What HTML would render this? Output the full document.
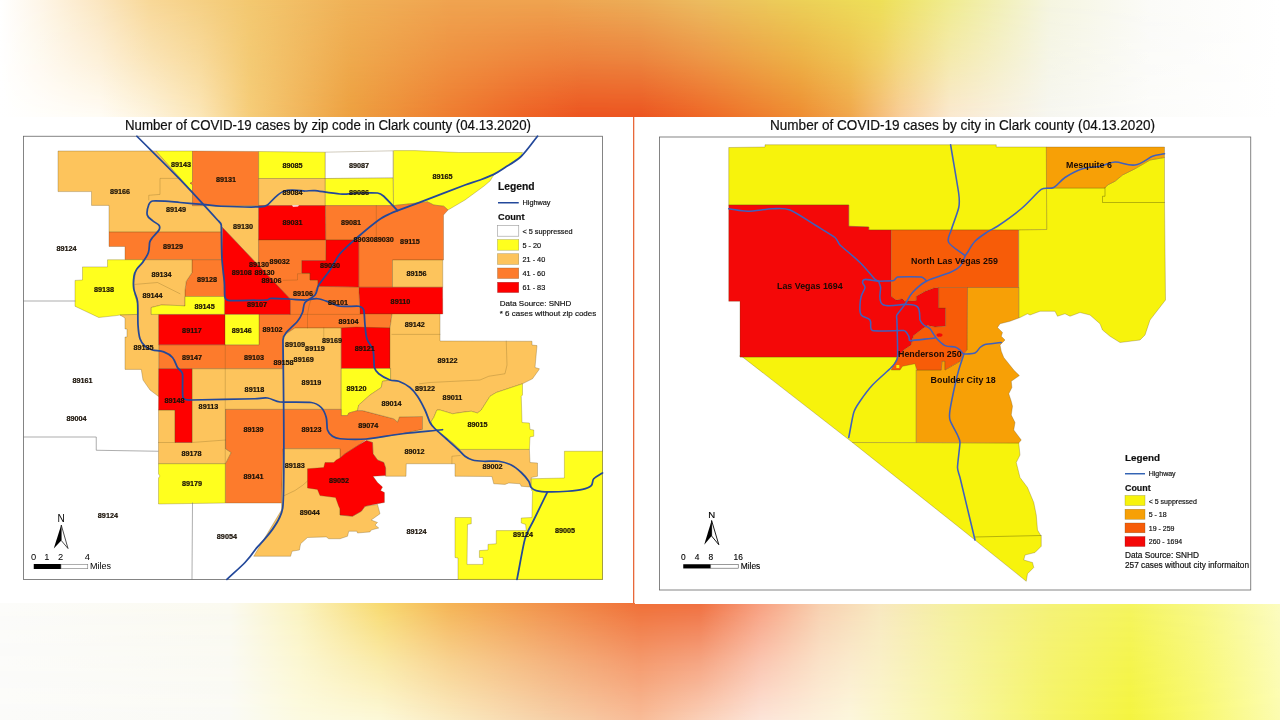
<!DOCTYPE html>
<html lang="en"><head><meta charset="utf-8"><title>COVID-19 cases in Clark county</title>
<style>
html,body{margin:0;padding:0;}
body{width:1280px;height:720px;overflow:hidden;background:#fff;position:relative;font-family:"Liberation Sans",sans-serif;}
#top,#top2{position:absolute;left:0;top:0;width:1280px;height:117px;}
#top{background:linear-gradient(90deg,#ffffff 0px,#fef6e8 40px,#fbe6c0 100px,#f8d898 150px,#f3c870 250px,#f0b258 350px,#f0a450 450px,#efa450 550px,#ecae58 640px,#ecbc60 700px,#ecd058 800px,#eee058 880px,#f0ec90 950px,#f2f0b8 1000px,#f5f5e0 1050px,#fbfbf8 1150px,#ffffff 1280px);}
#top2{background:linear-gradient(90deg,#ffffff 0px,#fffcf5 100px,#fdf3dc 150px,#fbe6b8 200px,#f5cc78 250px,#eda040 350px,#ee7c30 450px,#ee6426 520px,#ec5420 580px,#ec5420 640px,#ee6626 700px,#ee8c32 800px,#f0a64c 850px,#f8cc98 900px,#fae8d0 950px,#f8f0e0 1000px,#f6f6f0 1050px,#fcfcfa 1150px,#ffffff 1280px);
-webkit-mask-image:linear-gradient(180deg,rgba(0,0,0,0) 0%,rgba(0,0,0,.45) 50%,rgba(0,0,0,1) 100%);mask-image:linear-gradient(180deg,rgba(0,0,0,0) 0%,rgba(0,0,0,.45) 50%,rgba(0,0,0,1) 100%);}
#bot,#bot2{position:absolute;left:0;top:603px;width:1280px;height:117px;}
#bot{background:linear-gradient(90deg,#fcfcfa 0px,#fbfaf0 230px,#fbf3c0 300px,#f8da70 380px,#f5b455 450px,#f2904a 550px,#f07038 640px,#f07040 700px,#f8a080 760px,#f8d0b0 820px,#f8e8c0 880px,#f5f0a0 950px,#f5f278 1050px,#f5f560 1130px,#f8f888 1200px,#fcfcc0 1280px);}
#bot2{background:linear-gradient(90deg,#fbfbf9 0px,#fafaf5 230px,#fcfae0 300px,#fcf8d8 380px,#faeac0 450px,#f6d0a8 550px,#f8bc98 640px,#fad0b8 700px,#fce4d8 760px,#fcf6dc 850px,#f8f6a8 950px,#f5f468 1050px,#f4f440 1130px,#f8f870 1200px,#fcfcb0 1280px);
-webkit-mask-image:linear-gradient(180deg,rgba(0,0,0,0) 0%,rgba(0,0,0,.55) 50%,rgba(0,0,0,1) 100%);mask-image:linear-gradient(180deg,rgba(0,0,0,0) 0%,rgba(0,0,0,.55) 50%,rgba(0,0,0,1) 100%);}
#map{position:absolute;left:0;top:0;}
svg text{font-family:"Liberation Sans",sans-serif;}
</style></head><body>
<div id="top"></div><div id="top2"></div>
<div id="bot"></div><div id="bot2"></div>
<svg id="map" width="1280" height="720" viewBox="0 0 1280 720">
<rect x="0" y="117" width="1280" height="486" fill="#fff"/>
<rect x="633" y="117" width="1.3" height="486" fill="#E8683A"/>
<rect x="635" y="602" width="645" height="2" fill="#fff"/>

<text x="125" y="130.3" font-size="14" fill="#111" stroke="#111" stroke-width="0.2" textLength="406" lengthAdjust="spacingAndGlyphs">Number of COVID-19 cases by zip code in Clark county (04.13.2020)</text>
<text x="770" y="130.3" font-size="14" fill="#111" stroke="#111" stroke-width="0.2" textLength="385" lengthAdjust="spacingAndGlyphs">Number of COVID-19 cases by city in Clark county (04.13.2020)</text>
<g id="leftmap">
<rect x="23.5" y="136.25" width="579" height="443.15" fill="#fff" stroke="#666" stroke-width="0.8"/>
<polygon points="58,151 156,151 192.5,192 192.5,205.6 258.6,205.6 258.6,265.5 222.5,227.5 221.5,232.1 109,232.1 109,205.4 91.5,205.4 91.5,191.6 58,191.6" fill="#FDC45C" stroke="rgba(90,70,20,.55)" stroke-width="0.5"/>
<polygon points="156,151 192.5,151 192.5,182 190,183.2 192.5,184.5 192.5,192" fill="#FFFF1E" stroke="rgba(90,70,20,.55)" stroke-width="0.5"/>
<polygon points="192.5,151 258.7,151.5 258.7,205.6 192.5,205.6 192.5,184.5 190,183.2 192.5,182" fill="#FD7B2C" stroke="rgba(90,70,20,.55)" stroke-width="0.5"/>
<polygon points="258.7,151.5 325.3,152.2 325.3,178.5 258.7,178.5" fill="#FFFF1E" stroke="rgba(90,70,20,.55)" stroke-width="0.5"/>
<polygon points="258.7,178.5 325.3,178.5 325.3,205.6 258.7,205.6" fill="#FDC45C" stroke="rgba(90,70,20,.55)" stroke-width="0.5"/>
<polygon points="325.3,152.2 393,150.8 393,178 325.3,178.5" fill="#FFFFFF" stroke="rgba(90,70,20,.55)" stroke-width="0.5"/>
<polygon points="325.3,178.5 393,178 393.5,205.6 325.3,205.6" fill="#FFFF1E" stroke="rgba(90,70,20,.55)" stroke-width="0.5"/>
<polygon points="393.5,150.6 415,150.6 458.75,152.5 522.5,152.5 521.25,156.25 505,167.5 493.75,175 490,181 483.75,186.25 465,200 448,210 443.75,206.25 433.75,205 427.5,201.9 393.5,205.6" fill="#FFFF1E" stroke="rgba(90,70,20,.55)" stroke-width="0.5"/>
<polygon points="258.7,205.6 325.5,205.6 325.8,240 258.6,240" fill="#FE0000" stroke="rgba(90,70,20,.55)" stroke-width="0.5"/>
<polygon points="325.5,205.6 393.5,205.6 427.5,201.9 433.75,205 443.75,206.25 448,210 443.5,215 443.5,260 392.5,260 392.5,287.25 358.75,287.25 358.75,240 325.8,240" fill="#FD7B2C" stroke="rgba(90,70,20,.55)" stroke-width="0.5"/>
<polygon points="392.5,260 442.75,260 442.75,287.25 392.5,287.25" fill="#FDC45C" stroke="rgba(90,70,20,.55)" stroke-width="0.5"/>
<polygon points="358.75,287.25 442.6,287.25 442.75,314 360,314" fill="#FE0000" stroke="rgba(90,70,20,.55)" stroke-width="0.5"/>
<polygon points="258.6,240 325.8,240 326,260.6 301.9,260.6 301.9,273 310,273 310,280 318,280 318,286.3 358.75,287 360,314 392,314 390,328 295,328 283,336.25 282.5,368.75 158.75,368.75 158.75,344.75 259,344.75 259,314.4 290.25,314.4 290.25,300 288.75,297.5 258.6,265.5" fill="#FD7B2C" stroke="rgba(90,70,20,.55)" stroke-width="0.5"/>
<polygon points="301.9,260.6 326,260.6 326,240 358.75,240 358.75,287 318,286.3 318,280 310,280 310,273 301.9,273" fill="#FE0000" stroke="rgba(90,70,20,.55)" stroke-width="0.5"/>
<polygon points="222.5,227.5 288.75,297.5 290.25,300 290.25,314.4 224.4,314.4 224.4,296.5 223.75,282 222,257" fill="#FE0000" stroke="rgba(90,70,20,.55)" stroke-width="0.5"/>
<polygon points="109,232.1 221.5,232.1 222,259.75 125,259.75 125,246.5 109,246.5" fill="#FD7B2C" stroke="rgba(90,70,20,.55)" stroke-width="0.5"/>
<polygon points="192,259.75 222,259.75 223.75,282 224.4,296.5 185,296.5 185,290 186.25,281.25 192,272.5" fill="#FD7B2C" stroke="rgba(90,70,20,.55)" stroke-width="0.5"/>
<polygon points="107.5,259.75 143,259.75 143,261 136.25,270 133.75,282.5 135,295 138,305 138,314.4 120,315 116.25,315.6 98.75,317.5 75,306.25 75,280.4 82.5,280 82.5,266.9 107.5,266.9" fill="#FFFF1E" stroke="rgba(90,70,20,.55)" stroke-width="0.5"/>
<polygon points="143,259.75 192,259.75 192,272.5 186.25,281.25 185,290 185,306 180,305.6 161.25,305 151.25,307.5 151.25,314.4 158.75,314.4 158.6,396.5 150,390 143,380 141.25,369.4 125,369.4 125,337 127,337 127,329 125,329 125,318 120,315 138,314.4 138,305 135,295 133.75,282.5 136.25,270 143,261" fill="#FDC45C" stroke="rgba(90,70,20,.55)" stroke-width="0.5"/>
<polygon points="151.25,307.5 161.25,305 180,305.6 185,306 185,296.5 224.4,296.5 224.4,314.4 151.25,314.4" fill="#FFFF1E" stroke="rgba(90,70,20,.55)" stroke-width="0.5"/>
<polygon points="158.75,314.6 225,314.4 225,344.75 158.75,344.75" fill="#FE0000" stroke="rgba(90,70,20,.55)" stroke-width="0.5"/>
<polygon points="225,314.4 259,314.4 259,344.75 225,344.75" fill="#FFFF1E" stroke="rgba(90,70,20,.55)" stroke-width="0.5"/>
<polygon points="282.5,336.25 295,328 341.25,328 341.25,409.4 225.6,409.4 225.6,448.75 231.25,452.5 226.25,462.5 225.25,463.75 158.5,463.75 158.5,410 175,410 175,442.5 192,442.5 192,368.75 282.5,368.75" fill="#FDC45C" stroke="rgba(90,70,20,.55)" stroke-width="0.5"/>
<polygon points="158.75,368.75 192,368.75 192,442.5 175,442.5 175,410 158.5,410" fill="#FE0000" stroke="rgba(90,70,20,.55)" stroke-width="0.5"/>
<polygon points="341.25,328 356,327 390,328 390,368.5 341.25,368.5" fill="#FE0000" stroke="rgba(90,70,20,.55)" stroke-width="0.5"/>
<polygon points="341.25,368.5 390.6,368.5 390.6,380 382.5,381.25 381.25,387.5 370,395 358.75,405 357.5,410.6 348.75,413 347.5,415.6 341.25,415.6" fill="#FFFF1E" stroke="rgba(90,70,20,.55)" stroke-width="0.5"/>
<polygon points="225.6,409.4 341.25,409.4 341.25,415.6 347.5,415.6 348.75,413 357.5,410.6 362.5,410.6 393.75,418.75 397.5,422 399.4,416.9 422.5,416.5 422.5,429.4 402.5,433.75 366.25,439.5 358.75,445 345,453.75 340,458 340,448.75 283,448.75 281.5,503 225.25,503 225.25,463.75 226.25,462.5 231.25,452.5 225.6,448.75" fill="#FD7B2C" stroke="rgba(90,70,20,.55)" stroke-width="0.5"/>
<polygon points="158.5,463.75 225.25,463.75 225.25,503 158.5,504 158.5,478 160,476 158.5,474" fill="#FFFF1E" stroke="rgba(90,70,20,.55)" stroke-width="0.5"/>
<polygon points="283,448.75 340,448.75 340,515 352.5,516.25 361.25,511.25 365,506.25 377.5,504.4 380,513.75 371.25,520 377.5,522.5 375,525 378.75,528 371.25,530 370,531.9 357.5,533 356.9,531.25 348.75,531.25 347.5,536.25 340,538.75 328.75,538.75 326.25,536.9 307.5,537.5 300.6,543.75 299.4,550 292,551.25 290.6,556.25 253.75,556.25 281.5,510 281.5,503" fill="#FDC45C" stroke="rgba(90,70,20,.55)" stroke-width="0.5"/>
<polygon points="392,314 440,314 440,341 532,341.25 532,345 537,345.6 535,367.5 539.4,368.75 538.75,370 532.5,378.75 522.5,383.75 511.25,387.5 496.25,392.5 490,396.25 481.25,410 477.5,413 471.25,411.25 465,411.9 452.5,413.75 440,410 436.9,410 433.75,417.5 431.25,421.25 431.25,425 440,432.5 452.5,442.5 460,449.4 529.4,449.4 530,462.5 537.5,463 537.5,476.25 531.25,477.5 531.25,487 528.75,486.9 521.25,486.25 520,483.75 508.75,483 505,484.4 493.75,483.75 491.9,476.5 455,476.25 455,463.75 406.25,463.75 406,476.25 385.6,476.25 385.6,468 383.75,462.5 377.5,460 373,453.75 372.5,442.5 366.25,440.6 366.25,439.5 402.5,433.75 422.5,429.4 422.5,416.5 399.4,416.9 397.5,422 393.75,418.75 362.5,410.6 357.5,410.6 358.75,405 370,395 381.25,387.5 382.5,381.25 390.6,380 390.6,368.5 390,368.5 390,328" fill="#FDC45C" stroke="rgba(90,70,20,.55)" stroke-width="0.5"/>
<polygon points="307.5,468.75 323.75,467.5 325,462.5 333.75,462.5 336.25,460 340,458 345,453.75 358.75,445 366.25,440.6 372.5,442.5 373,453.75 377.5,460 383.75,462.5 385.6,468 385.6,475.6 373,476.25 377.5,482.5 382.5,487 380.6,490.6 384.4,492.5 384.4,502.5 377.5,503.75 365,506.25 361.25,511.25 352.5,516.25 340,515 340,508.75 338.75,506.25 335.6,497.5 320,495.6 317.5,489.4 307.5,488" fill="#FE0000" stroke="rgba(90,70,20,.55)" stroke-width="0.5"/>
<polygon points="436.9,410 440,410 452.5,413.75 465,411.9 471.25,411.25 477.5,413 481.25,410 490,396.25 496.25,392.5 511.25,387.5 522.5,383.75 522.5,395 521.25,396.25 522,422.5 529.4,423 530,429.4 533.75,430 533.75,436.25 530,436.9 529.4,449.4 460,449.4 452.5,442.5 440,432.5 431.25,425 431.25,421.25 433.75,417.5" fill="#FFFF1E" stroke="rgba(90,70,20,.55)" stroke-width="0.5"/>
<polygon points="564.4,451.25 602.5,451.25 602.5,579.4 458,579.4 458,558 455,557.5 455,517.5 471.25,517.5 471.25,523.75 467.5,524.4 467,564.4 483,564.4 483,557.5 479.4,557.5 479.4,550.6 488,550 488,544.4 496.25,543.75 496.25,530.6 526.25,530.6 525.6,524.4 521.25,523 521.25,518 531.9,517.5 532.5,491.25 531.25,490 531.25,478.75 564.4,478" fill="#FFFF1E" stroke="rgba(90,70,20,.55)" stroke-width="0.5"/>
<polyline points="23.5,301 75,301" fill="none" stroke="#777" stroke-width="0.6" stroke-linejoin="round" stroke-linecap="round" />
<polyline points="23.5,437 96.25,437 96.25,450.25 158,451.25" fill="none" stroke="#777" stroke-width="0.6" stroke-linejoin="round" stroke-linecap="round" />
<polyline points="192.5,503 192,579.4" fill="none" stroke="#777" stroke-width="0.6" stroke-linejoin="round" stroke-linecap="round" />
<polyline points="178,178.4 160,178.4 160,194.4 148.75,195.3 148.75,200" fill="none" stroke="rgba(90,70,20,.45)" stroke-width="0.5" stroke-linejoin="round" stroke-linecap="round" />
<polyline points="135,284.4 157.5,282.5 180,293.75" fill="none" stroke="rgba(90,70,20,.45)" stroke-width="0.5" stroke-linejoin="round" stroke-linecap="round" />
<polyline points="225.25,344.75 225.25,463" fill="none" stroke="rgba(90,70,20,.45)" stroke-width="0.5" stroke-linejoin="round" stroke-linecap="round" />
<polyline points="392,334.4 440,334.4" fill="none" stroke="rgba(90,70,20,.45)" stroke-width="0.5" stroke-linejoin="round" stroke-linecap="round" />
<polyline points="506.25,341 507,365 505,373.75 488.75,376.25 480,380 430,382.5 419.4,383.75" fill="none" stroke="rgba(90,70,20,.45)" stroke-width="0.5" stroke-linejoin="round" stroke-linecap="round" />
<polyline points="158.5,442.5 175,442.5" fill="none" stroke="rgba(90,70,20,.45)" stroke-width="0.5" stroke-linejoin="round" stroke-linecap="round" />
<polyline points="192,442.5 225.6,440" fill="none" stroke="rgba(90,70,20,.45)" stroke-width="0.5" stroke-linejoin="round" stroke-linecap="round" />
<polyline points="451.9,463.75 451.9,456.25 460,455.5" fill="none" stroke="rgba(90,70,20,.45)" stroke-width="0.5" stroke-linejoin="round" stroke-linecap="round" />
<polyline points="376.3,205.6 376.3,240" fill="none" stroke="rgba(90,70,20,.45)" stroke-width="0.5" stroke-linejoin="round" stroke-linecap="round" />
<polygon points="292,205.2 299,205.2 298,206.6 293,206.8" fill="#FFFFFF" stroke="none" stroke-width="0"/>
<polyline points="283.5,496 295,490.5 303,485 307.5,481" fill="none" stroke="rgba(90,70,20,.45)" stroke-width="0.5" stroke-linejoin="round" stroke-linecap="round" />
<polyline points="290.25,314.4 360,314.4" fill="none" stroke="rgba(90,70,20,.45)" stroke-width="0.5" stroke-linejoin="round" stroke-linecap="round" />
<polyline points="310,273.5 297.5,273.75 297.5,280 283,280.3" fill="none" stroke="rgba(90,70,20,.45)" stroke-width="0.5" stroke-linejoin="round" stroke-linecap="round" />
<polyline points="323.75,328 323.75,341" fill="none" stroke="rgba(90,70,20,.45)" stroke-width="0.5" stroke-linejoin="round" stroke-linecap="round" />
<polyline points="318,286.3 312,296 309,306 307.5,314.4 307.5,328" fill="none" stroke="rgba(90,70,20,.45)" stroke-width="0.5" stroke-linejoin="round" stroke-linecap="round" />
<path d="M136.90,136.25C152.42,151.78 166.20,165.06 180.00,179.40C193.80,193.74 215.99,218.33 217.50,220.00C219.01,221.67 220.99,222.77 221.25,225.00C221.51,227.23 221.41,248.47 221.90,257.50C222.39,266.53 223.98,277.11 224.40,282.50C224.82,287.89 224.37,295.48 225.00,297.50C225.63,299.52 227.89,300.48 230.00,300.60C232.11,300.72 266.45,300.06 267.50,300.00C268.55,299.94 268.95,298.55 270.00,298.50C271.05,298.45 282.89,298.75 288.75,299.00C294.61,299.25 300.48,300.04 305.00,300.00C309.52,299.96 313.00,298.30 317.50,298.75C322.00,299.20 326.35,301.28 330.00,302.50C333.65,303.72 336.19,305.75 340.00,306.25C343.81,306.75 356.53,305.90 358.75,306.25C360.97,306.60 363.04,307.87 363.75,310.00C364.46,312.13 364.46,320.03 365.00,325.00C365.54,329.97 365.50,334.36 366.90,338.75C368.30,343.14 371.84,345.54 373.00,350.00C374.16,354.46 373.75,364.84 374.40,367.50C375.05,370.16 376.61,372.04 378.75,373.75C380.89,375.46 387.02,378.88 390.00,380.00C392.98,381.12 395.77,380.13 398.75,381.25C401.73,382.37 406.76,384.91 410.00,387.50C413.24,390.09 415.20,392.80 417.50,396.25C419.80,399.70 422.92,405.62 425.00,410.00C427.08,414.38 428.64,419.96 430.00,422.50C431.36,425.04 432.96,426.71 435.00,428.75C437.04,430.79 442.21,435.14 446.25,438.75C450.29,442.36 456.42,447.83 458.75,450.00C461.08,452.17 462.56,454.47 465.00,456.25C467.44,458.03 469.58,459.22 472.50,460.00C475.42,460.78 479.68,461.06 483.75,461.25C487.82,461.44 494.09,460.62 498.75,461.25C503.41,461.88 507.23,462.99 511.25,465.00C515.27,467.01 518.21,469.68 521.25,472.50C524.29,475.32 527.41,479.23 528.75,481.25C530.09,483.27 529.92,485.85 531.25,487.50C532.58,489.15 534.20,490.08 536.25,490.60C538.30,491.12 544.23,491.81 548.75,491.90C553.27,491.99 562.07,491.65 567.50,491.25C572.93,490.85 579.16,490.19 582.50,489.40C585.84,488.61 589.34,487.40 591.25,485.60C593.16,483.80 592.00,480.71 593.75,478.75C595.50,476.79 599.35,475.07 602.50,473.00" fill="none" stroke="#23489A" stroke-width="1.75" stroke-linejoin="round" stroke-linecap="round"/>
<path d="M397.50,210.60C392.55,205.43 385.65,197.93 383.75,196.25C381.85,194.57 380.01,193.33 377.50,193.00C374.99,192.67 365.50,192.82 358.75,193.00C352.00,193.18 346.75,194.37 340.00,194.00C333.25,193.63 318.59,190.91 315.00,190.60C311.41,190.29 308.60,190.93 305.00,191.00C301.40,191.07 290.92,188.57 283.75,191.25C276.58,193.93 269.83,203.47 267.50,205.00C265.17,206.53 262.78,206.83 260.00,206.90C257.22,206.97 227.69,206.54 221.00,206.25C214.31,205.96 209.17,205.01 202.50,204.40C195.83,203.79 185.40,202.96 180.00,202.50C174.60,202.04 169.49,201.45 165.00,201.20C160.51,200.95 154.35,200.60 152.50,201.00C150.65,201.40 149.42,202.92 148.75,204.70C148.08,206.48 146.62,212.31 147.25,215.00C147.88,217.69 150.42,218.78 152.50,220.60C154.58,222.42 158.04,223.91 159.00,225.30C159.96,226.69 159.80,228.51 159.00,230.00C158.20,231.49 153.69,235.93 152.50,237.50C151.31,239.07 150.22,240.30 149.70,242.20C149.18,244.10 149.60,248.96 148.40,252.50C147.20,256.04 145.03,258.99 143.00,261.90C140.97,264.81 138.00,267.17 136.60,269.40C135.20,271.63 134.38,273.64 134.00,276.25C133.62,278.86 133.13,284.29 133.75,288.75C134.37,293.21 136.95,296.58 137.50,301.25C138.05,305.92 137.67,320.01 138.00,325.00C138.33,329.99 138.98,335.67 140.00,338.75C141.02,341.83 142.76,344.23 145.00,346.25C147.24,348.27 149.61,349.13 152.50,350.00C155.39,350.87 160.25,350.59 163.75,351.90C167.25,353.21 170.03,354.69 172.50,357.50C174.97,360.31 175.99,365.05 177.50,367.50C179.01,369.95 181.98,370.92 182.50,373.75C183.02,376.58 182.02,394.56 183.00,397.50C183.98,400.44 188.15,399.95 191.25,400.00C194.35,400.05 250.49,398.87 255.00,398.75C259.51,398.63 263.03,397.42 267.50,398.00C271.97,398.58 275.30,401.52 280.00,402.00C284.70,402.48 307.26,401.97 311.25,402.50C315.24,403.03 318.40,404.65 321.25,407.50C324.10,410.35 325.17,413.62 326.25,417.50C327.33,421.38 326.59,427.27 327.50,430.00C328.41,432.73 330.17,434.62 332.50,436.25C334.83,437.88 337.16,438.52 340.00,438.75C342.84,438.98 356.83,439.75 366.25,439.00C375.67,438.25 389.41,435.34 402.50,433.75C415.59,432.16 428.10,431.19 442.50,429.75" fill="none" stroke="#23489A" stroke-width="1.75" stroke-linejoin="round" stroke-linecap="round"/>
<path d="M537.50,136.25C531.65,143.45 526.38,151.32 521.25,156.25C516.12,161.18 508.97,164.88 505.00,167.50C501.03,170.12 498.00,172.28 493.75,174.40C489.50,176.52 485.01,178.15 480.00,180.00C474.99,181.85 470.34,183.03 465.00,185.00C459.66,186.97 438.28,195.31 427.50,199.40C416.72,203.49 400.24,209.55 397.50,210.60C394.76,211.65 392.62,212.44 390.00,213.75C387.38,215.06 382.51,217.29 378.75,220.00C374.99,222.71 365.71,230.19 358.75,236.25C351.79,242.31 344.45,248.52 340.00,253.75C335.55,258.98 333.80,264.42 330.00,270.00C326.20,275.58 320.73,281.70 318.75,285.00C316.77,288.30 317.38,291.98 315.00,295.00C312.62,298.02 307.16,299.48 305.00,302.50C302.84,305.52 303.85,309.13 302.50,312.50C301.15,315.87 299.79,318.43 297.50,321.25C295.21,324.07 288.05,330.17 286.25,332.50C284.45,334.83 283.06,337.06 283.00,340.00C282.94,342.94 285.16,489.39 282.75,507.50C280.34,525.61 258.26,545.25 255.00,550.00C251.74,554.75 248.98,558.33 245.00,562.50C241.02,566.67 233.42,573.32 226.90,579.40" fill="none" stroke="#23489A" stroke-width="1.75" stroke-linejoin="round" stroke-linecap="round"/>
<path d="M547.50,491.90C542.55,502.02 536.97,513.29 533.75,520.00C530.53,526.71 527.02,531.58 525.00,538.75C522.98,545.92 519.88,564.77 517.00,579.40" fill="none" stroke="#23489A" stroke-width="1.75" stroke-linejoin="round" stroke-linecap="round"/>
<g font-size="7.25" font-weight="700" text-anchor="middle" fill="#1a1208" stroke="#1a1208" stroke-width="0.2">
<text x="181" y="167">89143</text>
<text x="226" y="181.5">89131</text>
<text x="292.5" y="167.5">89085</text>
<text x="359" y="167.5">89087</text>
<text x="442.5" y="178.5">89165</text>
<text x="120" y="194">89166</text>
<text x="292.5" y="195">89084</text>
<text x="359" y="195">89086</text>
<text x="176" y="212">89149</text>
<text x="243" y="229">89130</text>
<text x="292.5" y="225">89031</text>
<text x="351" y="225">89081</text>
<text x="66.5" y="250.5">89124</text>
<text x="173" y="249">89129</text>
<text x="373.75" y="241.9">8903089030</text>
<text x="410" y="243.5">89115</text>
<text x="259" y="266.5">89130</text>
<text x="279.7" y="263.5">89032</text>
<text x="330" y="268">89030</text>
<text x="241.8" y="274.8">89108</text>
<text x="264.5" y="275">89130</text>
<text x="271.5" y="283">89106</text>
<text x="161.5" y="277">89134</text>
<text x="207" y="282">89128</text>
<text x="416.5" y="276">89156</text>
<text x="104" y="292">89138</text>
<text x="152.5" y="298">89144</text>
<text x="303" y="295.5">89106</text>
<text x="204.6" y="309.2">89145</text>
<text x="257" y="306.8">89107</text>
<text x="338" y="305">89101</text>
<text x="400.5" y="303.5">89110</text>
<text x="348.5" y="323.5">89104</text>
<text x="192" y="333">89117</text>
<text x="241.8" y="332.7">89146</text>
<text x="272.5" y="332">89102</text>
<text x="414.8" y="326.5">89142</text>
<text x="295" y="346.5">89109</text>
<text x="332" y="343">89169</text>
<text x="315" y="351">89119</text>
<text x="143.5" y="350">89135</text>
<text x="364.8" y="350.5">89121</text>
<text x="192" y="360">89147</text>
<text x="254" y="359.5">89103</text>
<text x="283.5" y="365">89158</text>
<text x="303.7" y="361.5">89169</text>
<text x="447.5" y="362.5">89122</text>
<text x="82.5" y="383">89161</text>
<text x="254.5" y="391.5">89118</text>
<text x="311.5" y="385">89119</text>
<text x="356.5" y="390.5">89120</text>
<text x="425" y="390.5">89122</text>
<text x="452.5" y="399.5">89011</text>
<text x="391.5" y="406">89014</text>
<text x="174.5" y="402.5">89148</text>
<text x="208.5" y="408.5">89113</text>
<text x="76.5" y="420.5">89004</text>
<text x="477.5" y="427">89015</text>
<text x="253.5" y="432">89139</text>
<text x="311.5" y="432">89123</text>
<text x="368.3" y="428">89074</text>
<text x="191.5" y="455.5">89178</text>
<text x="414.5" y="453.5">89012</text>
<text x="492.5" y="468.75">89002</text>
<text x="294.75" y="468.1">89183</text>
<text x="253.5" y="478.75">89141</text>
<text x="339" y="482.5">89052</text>
<text x="192" y="486">89179</text>
<text x="309.75" y="515.25">89044</text>
<text x="107.9" y="517.5">89124</text>
<text x="226.9" y="538.75">89054</text>
<text x="416.5" y="533.75">89124</text>
<text x="523" y="536.5">89124</text>
<text x="565" y="532.5">89005</text>
</g>
<g fill="#111" stroke="#111" stroke-width="0.18">
<text x="498" y="190" font-size="10.3" font-weight="700">Legend</text>
<line x1="498" y1="202.75" x2="518.75" y2="202.75" stroke="#23489A" stroke-width="1.5"/>
<text x="522.5" y="205.4" font-size="7.3">Highway</text>
<text x="498" y="220" font-size="9.2" font-weight="700">Count</text>
<rect x="497.5" y="225.6" width="21.25" height="10.6" fill="#fff" stroke="#999" stroke-width="0.6"/>
<rect x="497.5" y="239.6" width="21.25" height="10.6" fill="#FFFF1E" stroke="rgba(120,120,30,.6)" stroke-width="0.5"/>
<rect x="497.5" y="253.75" width="21.25" height="10.6" fill="#FDC45C" stroke="rgba(120,100,30,.6)" stroke-width="0.5"/>
<rect x="497.5" y="268" width="21.25" height="10.5" fill="#FD7B2C" stroke="rgba(120,80,30,.6)" stroke-width="0.5"/>
<rect x="497.5" y="282.25" width="21.25" height="10.3" fill="#FE0000" stroke="rgba(120,30,30,.6)" stroke-width="0.5"/>
<g font-size="7.3">
<text x="522.5" y="233.75">&lt; 5 suppressed</text>
<text x="522.5" y="247.9">5 - 20</text>
<text x="522.5" y="262">21 - 40</text>
<text x="522.5" y="276.2">41 - 60</text>
<text x="522.5" y="290.4">61 - 83</text>
</g>
<text x="499.75" y="306" font-size="8">Data Source: SNHD</text>
<text x="499.75" y="315.6" font-size="8">* 6 cases without zip codes</text>
</g>
<g fill="#000">
<text x="61" y="521.7" font-size="10" text-anchor="middle">N</text>
<polygon points="61.25,525 53.75,548.5 61.25,540.5"/>
<polygon points="61.25,525 68,548.5 61.25,540.5" fill="#fff" stroke="#000" stroke-width="0.7"/>
<g font-size="9.3" text-anchor="middle">
<text x="33.5" y="559.75">0</text><text x="46.9" y="559.75">1</text><text x="60.6" y="559.75">2</text><text x="87.25" y="559.75">4</text>
</g>
<rect x="33.75" y="564" width="27.25" height="5"/>
<rect x="61" y="564.3" width="26.75" height="4.4" fill="#fff" stroke="#777" stroke-width="0.6"/>
<text x="90" y="568.75" font-size="9">Miles</text>
</g>
</g>
<g id="rightmap">
<rect x="659.5" y="137" width="591.25" height="453" fill="#fff" stroke="#666" stroke-width="0.8"/>
<polygon points="728.75,147.5 765,147 765,144.75 996.25,144.75 996.25,147 1046.5,147 1046.9,229.5 1018.75,230 891.25,230 868.75,230 868.75,227 848.75,226.25 848.75,205 728.75,205" fill="#F7F30C" stroke="rgba(90,70,20,.55)" stroke-width="0.5"/>
<polygon points="1046.5,188 1105,188 1107.5,185 1115,181.25 1122.5,175 1135,168.75 1150,160 1164.5,157.5 1164.5,202.5 1165.5,300 1150,320 1145,335 1140,340 1120,342.5 1110,336.25 1102.5,330 1100,323.75 1090,315 1080,312.5 1070,316.25 1065,313.75 1057.5,316.25 1055,311.25 1040,311.25 1030,315 1027.5,313.75 1020,317.5 1018.75,318 1018.75,230 1046.9,229.5" fill="#F7F30C" stroke="rgba(90,70,20,.55)" stroke-width="0.5"/>
<polygon points="1046.25,147 1164.5,147 1164.5,157.5 1150,160 1135,168.75 1122.5,175 1115,181.25 1107.5,185 1105,188 1046.5,188" fill="#F7A006" stroke="rgba(90,70,20,.55)" stroke-width="0.5"/>
<polyline points="1105,188 1105,196.25 1102.5,196.25 1102.5,202.5 1164.5,202.5" fill="none" stroke="rgba(60,60,10,.7)" stroke-width="0.5" stroke-linejoin="round" stroke-linecap="round" />
<polygon points="740,355 740,357 916.25,357 916.25,442.5 852.5,442.5" fill="#F7F30C" stroke="rgba(90,70,20,.55)" stroke-width="0.5"/>
<polygon points="852.5,442.5 1018.75,443 1020,455 1016.25,462.5 1020,477.5 1027.5,487.5 1033.75,502.5 1036.25,515 1037.5,530 1041.25,536.25 1041.25,546.25 1035,552.5 1025,555 1023.75,560 1032.5,562.5 1033.75,567.5 1027.5,573.75 1026.25,581.25 960,528" fill="#F7F30C" stroke="rgba(90,70,20,.55)" stroke-width="0.5"/>
<polyline points="975,537 1041.25,535.5" fill="none" stroke="rgba(60,60,10,.7)" stroke-width="0.5" stroke-linejoin="round" stroke-linecap="round" />
<polygon points="967.5,287.5 1018.75,287.5 1018.75,318 1010,321.25 1000,323.75 997.5,327.5 1002.5,332.5 1001.25,336.25 1005,340 1000,345 1001.25,351.25 1003.75,357.5 1008.75,363.75 1013.75,370 1019.4,375.6 1011.25,381.25 1011.9,387.5 1008.75,393.75 1011.25,401.25 1012.5,406.25 1011.25,415 1015,422.5 1013.75,430 1021.25,440 1018.75,443 916.25,442.5 916.25,370 916.9,370 941.25,370 941.9,361.25 945,361.25 945,370 952.5,365.6 960,361.25 962.5,355 967,350" fill="#F7A006" stroke="rgba(90,70,20,.55)" stroke-width="0.5"/>
<polygon points="728.75,205 848.75,205 848.75,226.25 868.75,227 868.75,230 891.25,230 891.25,296.25 896.25,300 902.5,298.75 905,301.25 916.25,300.6 916.25,296.25 925,291.25 933.75,288 938.75,287.5 938.75,308 945.6,308 945.6,326.25 935,326.9 927.5,325.6 922.5,328.75 913.75,335.6 912.5,338.75 911.25,345 903.75,350 897.5,357 740,357 740,301.25 728.75,301.25" fill="#F40808" stroke="rgba(90,70,20,.55)" stroke-width="0.5"/>
<polygon points="891.25,230 1018.5,230 1018.5,287.5 938.75,287.5 933.75,288 925,291.25 916.25,296.25 916.25,300.6 905,301.25 902.5,298.75 896.25,300 891.25,296.25" fill="#F75C08" stroke="rgba(90,70,20,.55)" stroke-width="0.5"/>
<polygon points="938.75,287.5 967.5,287.5 967,350 962.5,355 960,361.25 952.5,365.6 945,370 945,361.25 941.9,361.25 941.25,370 916.9,370 915,363.75 902.5,366.25 900,370 891.25,370 897.5,357 903.75,350 911.25,345 912.5,338.75 913.75,335.6 922.5,328.75 927.5,325.6 935,326.9 945.6,326.25 945.6,308 938.75,308" fill="#F75C08" stroke="rgba(90,70,20,.55)" stroke-width="0.5"/>
<ellipse cx="939.5" cy="335" rx="3" ry="1.8" fill="#F40808"/>
<rect x="896.3" y="365" width="3" height="3" fill="#F7F30C"/>
<path d="M728.75,208.75C735.50,209.65 740.69,211.25 747.50,211.25C754.31,211.25 766.19,208.94 772.50,208.75C778.81,208.56 784.10,207.74 790.00,210.00C795.90,212.26 807.76,220.57 815.00,225.00C822.24,229.43 832.47,235.47 835.00,237.50C837.53,239.53 837.71,242.71 840.00,245.00C842.29,247.29 854.20,256.80 860.00,262.50C865.80,268.20 873.94,278.34 875.00,279.40C876.06,280.46 877.40,280.58 878.75,281.25" fill="none" stroke="#3F60BE" stroke-width="1.55" stroke-linejoin="round" stroke-linecap="round"/>
<path d="M878.75,281.25C873.80,280.58 866.43,279.29 865.00,279.40C863.57,279.51 862.50,281.07 862.50,282.50C862.50,283.93 865.18,285.50 865.00,287.50C864.82,289.50 862.12,293.19 861.25,296.25C860.38,299.31 860.00,301.82 860.00,305.00C860.00,308.18 859.24,311.98 861.25,315.00C863.26,318.02 867.88,317.06 870.00,320.00C872.12,322.94 868.76,329.43 872.50,330.60C876.24,331.77 901.07,330.18 903.75,330.60C906.43,331.02 907.89,334.87 908.75,336.25C909.61,337.63 908.37,340.49 910.00,340.60C911.63,340.71 926.00,338.94 935.00,338.00" fill="none" stroke="#3F60BE" stroke-width="1.55" stroke-linejoin="round" stroke-linecap="round"/>
<path d="M878.75,281.25C884.15,281.02 891.90,281.03 893.75,280.60C895.60,280.17 895.62,277.15 897.50,276.90C899.38,276.65 919.03,276.61 921.25,276.90C923.47,277.19 924.45,279.27 926.25,280.60" fill="none" stroke="#3F60BE" stroke-width="1.55" stroke-linejoin="round" stroke-linecap="round"/>
<path d="M1164.50,153.75C1160.18,154.65 1156.62,154.68 1152.50,156.25C1148.38,157.82 1141.96,163.93 1135.00,165.00C1128.04,166.07 1120.61,161.80 1115.00,162.00C1109.39,162.20 1105.50,165.11 1100.00,166.25C1094.50,167.39 1088.56,166.80 1082.50,168.75C1076.44,170.70 1069.54,174.54 1065.00,177.50C1060.46,180.46 1057.82,185.46 1053.75,187.50C1049.68,189.54 1045.06,186.91 1041.25,189.40C1037.44,191.89 1028.91,202.30 1021.25,208.75C1013.59,215.20 1000.91,223.91 997.50,226.25C994.09,228.59 990.94,229.61 987.50,231.90C984.06,234.19 978.39,237.76 975.00,241.25C971.61,244.74 968.40,251.15 967.50,252.50C966.60,253.85 965.78,254.83 965.00,256.25C964.22,257.67 962.73,263.29 960.00,266.25C957.27,269.21 953.88,270.78 950.00,272.50C946.12,274.22 931.89,278.24 926.25,281.25C920.61,284.26 915.92,288.77 912.50,292.50C909.08,296.23 907.74,300.45 905.00,304.40C902.26,308.35 897.73,313.40 896.90,315.00C896.07,316.60 896.87,318.20 896.90,320.00C896.93,321.80 898.00,353.28 897.50,357.50C897.00,361.72 894.11,364.36 891.25,367.50C888.39,370.64 877.51,379.58 872.50,385.00C867.49,390.42 862.61,397.42 860.00,401.25C857.39,405.08 855.12,408.08 853.75,412.50C852.38,416.92 850.55,428.50 848.75,437.50" fill="none" stroke="#3F60BE" stroke-width="1.55" stroke-linejoin="round" stroke-linecap="round"/>
<path d="M950.60,144.75C953.53,162.39 958.11,188.84 958.75,193.75C959.39,198.66 959.75,202.65 958.75,207.50C957.75,212.35 952.51,225.59 951.25,230.00C949.99,234.41 946.58,238.46 948.75,242.50C950.92,246.54 959.15,250.88 965.00,255.60" fill="none" stroke="#3F60BE" stroke-width="1.55" stroke-linejoin="round" stroke-linecap="round"/>
<path d="M878.75,281.25C879.42,283.50 880.22,285.18 880.60,287.50C880.98,289.82 877.47,300.91 882.50,304.40C887.53,307.89 900.42,304.07 905.00,304.40C909.58,304.73 914.32,303.59 917.50,306.90C920.68,310.21 919.27,317.87 920.00,320.00C920.73,322.13 922.06,323.52 923.75,325.00C925.44,326.48 928.18,326.86 930.00,328.75C931.82,330.64 933.58,335.00 936.25,338.00C938.92,341.00 941.72,344.04 945.00,345.60C948.28,347.16 952.97,346.30 955.00,346.90C957.03,347.50 958.50,348.82 960.00,350.00C961.50,351.18 961.88,353.38 963.75,353.75C965.62,354.12 972.50,353.96 975.00,353.00C977.50,352.04 978.39,348.88 980.00,347.50C981.61,346.12 982.94,344.89 985.00,344.40C987.06,343.91 995.40,343.18 1001.25,342.50" fill="none" stroke="#3F60BE" stroke-width="1.55" stroke-linejoin="round" stroke-linecap="round"/>
<path d="M963.75,354.40C961.95,360.02 960.28,364.65 958.75,370.00C957.22,375.35 956.19,379.56 955.00,385.00C953.81,390.44 950.51,406.44 950.00,410.00C949.49,413.56 948.97,416.55 950.00,420.00C951.03,423.45 956.34,432.40 957.50,435.00C958.66,437.60 960.00,439.65 960.00,442.50C960.00,445.35 957.50,463.79 957.50,467.50C957.50,471.21 959.13,473.89 960.00,477.50C960.87,481.11 969.60,517.50 975.00,540.00" fill="none" stroke="#3F60BE" stroke-width="1.55" stroke-linejoin="round" stroke-linecap="round"/>
<g font-size="8.9" font-weight="700" fill="#1a0a05">
<text x="777" y="288.75">Las Vegas 1694</text>
<text x="911" y="263.75">North Las Vegas 259</text>
<text x="898" y="357.25">Henderson 250</text>
<text x="930.6" y="382.75">Boulder City 18</text>
<text x="1066" y="168">Mesquite 6</text>
</g>
<g fill="#111" stroke="#111" stroke-width="0.18">
<text x="1125" y="461.25" font-size="9.9" font-weight="700">Legend</text>
<line x1="1125" y1="473.75" x2="1145" y2="473.75" stroke="#2A5CB0" stroke-width="1.4"/>
<text x="1148.75" y="476.25" font-size="7">Highway</text>
<text x="1125" y="490.75" font-size="8.9" font-weight="700">Count</text>
<rect x="1125" y="495.5" width="20" height="10" fill="#F7F30C" stroke="rgba(120,120,30,.6)" stroke-width="0.5"/>
<rect x="1125" y="509.25" width="20" height="10" fill="#F7A006" stroke="rgba(120,100,30,.6)" stroke-width="0.5"/>
<rect x="1125" y="523" width="20" height="9.8" fill="#F75C08" stroke="rgba(120,80,30,.6)" stroke-width="0.5"/>
<rect x="1125" y="536.5" width="20" height="10" fill="#F40808" stroke="rgba(120,30,30,.6)" stroke-width="0.5"/>
<g font-size="7">
<text x="1148.75" y="503.75">&lt; 5 suppressed</text>
<text x="1148.75" y="517">5 - 18</text>
<text x="1148.75" y="530.5">19 - 259</text>
<text x="1148.75" y="544">260 - 1694</text>
</g>
<text x="1125" y="557.5" font-size="8.27">Data Source: SNHD</text>
<text x="1125" y="567.5" font-size="8.27">257 cases without city informaiton</text>
</g>
<g fill="#000">
<text x="711.7" y="517.6" font-size="9.6" text-anchor="middle" stroke="#000" stroke-width="0.15">N</text>
<polygon points="711.6,520.5 704.2,544.7 711.6,536"/>
<polygon points="711.6,520.5 718.8,544.7 711.6,536" fill="#fff" stroke="#000" stroke-width="0.9"/>
<g font-size="8.4" text-anchor="middle" stroke="#000" stroke-width="0.12">
<text x="683.25" y="560.2">0</text><text x="697" y="560.2">4</text><text x="710.75" y="560.2">8</text><text x="738.25" y="560.2">16</text>
</g>
<rect x="683.25" y="564.25" width="27.5" height="4.2"/>
<rect x="710.75" y="564.5" width="27.5" height="3.7" fill="#fff" stroke="#555" stroke-width="0.6"/>
<text x="740.75" y="568.9" font-size="8.4" stroke="#000" stroke-width="0.12">Miles</text>
</g>
</g>
</svg></body></html>
